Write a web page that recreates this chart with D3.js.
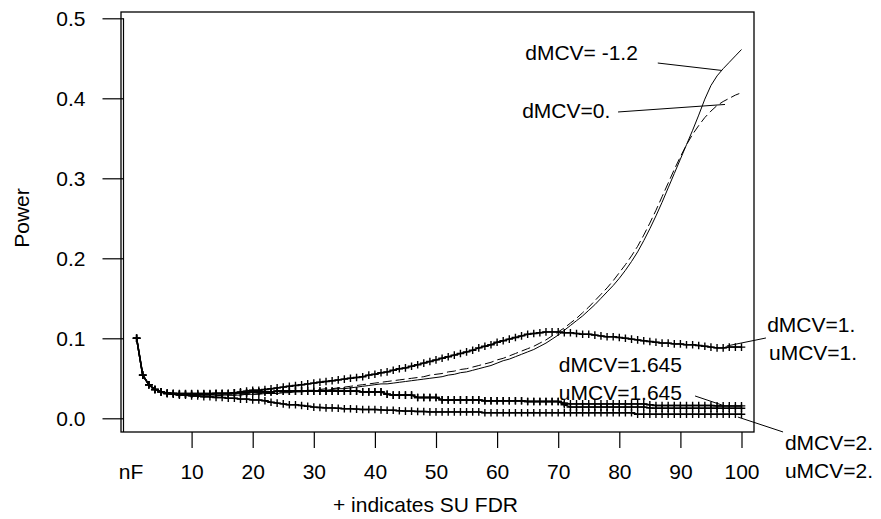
<!DOCTYPE html>
<html><head><meta charset="utf-8">
<script src="https://cdn.jsdelivr.net/npm/d3@7"></script>
<style>
html,body{margin:0;padding:0;background:#fff;}
svg{display:block;}
text{font-family:"Liberation Sans",Arial,Helvetica,sans-serif;font-size:21px;fill:#000;}
</style></head><body>
<svg id="chart" width="881" height="519"></svg>
<script>
// ---- data ----
const nF = d3.range(1, 101);
const xTicks = [0, 10, 20, 30, 40, 50, 60, 70, 80, 90, 100];
const xTickLabels = ["nF", "10", "20", "30", "40", "50", "60", "70", "80", "90", "100"];
const yTicks = [0, 0.1, 0.2, 0.3, 0.4, 0.5];
const yTickLabels = ["0.0", "0.1", "0.2", "0.3", "0.4", "0.5"];

// dMCV=-1.2 (solid)
const powDm12 = [0.100,0.054,0.042,0.036,0.033,0.031,0.030,0.029,0.029,0.028,
 0.028,0.028,0.028,0.028,0.029,0.029,0.029,0.029,0.030,0.030,
 0.030,0.031,0.031,0.031,0.032,0.032,0.033,0.033,0.034,0.034,
 0.035,0.035,0.036,0.037,0.037,0.038,0.039,0.040,0.041,0.042,
 0.043,0.043,0.044,0.045,0.046,0.047,0.048,0.049,0.050,0.051,
 0.052,0.054,0.055,0.057,0.058,0.060,0.062,0.064,0.066,0.069,
 0.072,0.074,0.077,0.080,0.083,0.086,0.090,0.094,0.099,0.104,
 0.110,0.116,0.122,0.128,0.135,0.142,0.150,0.158,0.166,0.175,
 0.185,0.196,0.208,0.222,0.237,0.253,0.270,0.288,0.306,0.324,
 0.342,0.360,0.379,0.399,0.416,0.428,0.437,0.445,0.453,0.461];
// dMCV=0. (dashed)
const powD0 = [0.100,0.054,0.042,0.036,0.033,0.031,0.030,0.029,0.029,0.028,
 0.028,0.028,0.028,0.028,0.029,0.029,0.029,0.030,0.030,0.030,
 0.031,0.031,0.032,0.032,0.033,0.033,0.034,0.034,0.035,0.035,
 0.036,0.037,0.037,0.038,0.039,0.040,0.041,0.042,0.043,0.044,
 0.045,0.046,0.047,0.048,0.049,0.050,0.051,0.052,0.054,0.055,
 0.056,0.058,0.059,0.061,0.062,0.064,0.066,0.068,0.070,0.073,
 0.075,0.078,0.081,0.084,0.087,0.090,0.094,0.098,0.103,0.108,
 0.113,0.119,0.125,0.132,0.139,0.147,0.155,0.163,0.172,0.182,
 0.192,0.203,0.215,0.229,0.244,0.260,0.277,0.294,0.311,0.327,
 0.342,0.355,0.366,0.376,0.384,0.391,0.396,0.400,0.404,0.407];
// dMCV=1. / uMCV=1. (SU FDR, +)
const powDU1 = [0.100,0.054,0.042,0.036,0.033,0.032,0.031,0.031,0.031,0.031,
 0.031,0.031,0.031,0.031,0.031,0.031,0.032,0.033,0.034,0.035,
 0.035,0.036,0.037,0.038,0.039,0.040,0.041,0.042,0.043,0.044,
 0.045,0.046,0.047,0.048,0.049,0.050,0.051,0.052,0.054,0.055,
 0.057,0.058,0.060,0.062,0.063,0.065,0.067,0.069,0.071,0.073,
 0.075,0.077,0.079,0.081,0.083,0.085,0.088,0.090,0.092,0.095,
 0.097,0.099,0.101,0.103,0.105,0.106,0.107,0.108,0.108,0.108,
 0.107,0.107,0.106,0.105,0.105,0.104,0.103,0.102,0.102,0.101,
 0.100,0.099,0.098,0.097,0.096,0.095,0.094,0.094,0.093,0.093,
 0.092,0.092,0.091,0.090,0.089,0.088,0.088,0.089,0.089,0.089];
// dMCV=1.645 (+)
const powD1645 = [0.100,0.054,0.042,0.036,0.033,0.031,0.031,0.030,0.030,0.030,
 0.030,0.030,0.030,0.031,0.031,0.031,0.032,0.032,0.032,0.033,
 0.033,0.033,0.033,0.034,0.034,0.034,0.034,0.034,0.034,0.034,
 0.034,0.034,0.034,0.034,0.034,0.034,0.034,0.033,0.033,0.033,
 0.033,0.030,0.029,0.029,0.029,0.029,0.026,0.026,0.026,0.026,
 0.023,0.023,0.023,0.023,0.023,0.023,0.023,0.022,0.022,0.022,
 0.022,0.022,0.022,0.022,0.021,0.021,0.021,0.021,0.021,0.021,
 0.019,0.018,0.018,0.018,0.018,0.018,0.018,0.018,0.018,0.018,
 0.018,0.018,0.018,0.018,0.017,0.016,0.016,0.016,0.016,0.016,
 0.016,0.016,0.016,0.016,0.016,0.0155,0.0155,0.0155,0.0155,0.0155];
// uMCV=1.645 (+)
const powU1645 = [0.100,0.054,0.042,0.036,0.033,0.031,0.031,0.030,0.030,0.030,
 0.030,0.030,0.030,0.031,0.031,0.031,0.032,0.032,0.032,0.033,
 0.033,0.033,0.033,0.034,0.034,0.034,0.034,0.034,0.034,0.034,
 0.034,0.034,0.034,0.034,0.034,0.034,0.034,0.033,0.033,0.033,
 0.033,0.030,0.029,0.029,0.029,0.029,0.026,0.026,0.026,0.026,
 0.023,0.023,0.023,0.023,0.023,0.023,0.023,0.022,0.022,0.022,
 0.022,0.022,0.022,0.022,0.021,0.021,0.021,0.021,0.021,0.021,
 0.017,0.014,0.014,0.014,0.014,0.014,0.014,0.014,0.014,0.014,
 0.014,0.014,0.014,0.014,0.013,0.0125,0.0125,0.0125,0.0125,0.0125,
 0.0125,0.0125,0.0125,0.0125,0.0125,0.0125,0.0125,0.0125,0.0125,0.0125];
// dMCV=2. / uMCV=2. (+)
const powDU2 = [0.100,0.054,0.042,0.036,0.033,0.031,0.030,0.029,0.029,0.028,
 0.028,0.027,0.027,0.026,0.026,0.025,0.025,0.024,0.024,0.023,
 0.023,0.022,0.020,0.019,0.018,0.017,0.017,0.016,0.015,0.014,
 0.0135,0.013,0.013,0.0125,0.012,0.012,0.0115,0.011,0.011,0.011,
 0.0105,0.010,0.010,0.0095,0.009,0.009,0.0085,0.0085,0.008,0.008,
 0.008,0.008,0.008,0.008,0.008,0.008,0.008,0.007,0.007,0.007,
 0.007,0.007,0.007,0.007,0.007,0.007,0.007,0.007,0.007,0.007,
 0.007,0.007,0.007,0.007,0.007,0.007,0.007,0.007,0.007,0.007,
 0.007,0.007,0.005,0.005,0.005,0.005,0.005,0.005,0.005,0.005,
 0.005,0.005,0.005,0.005,0.005,0.005,0.005,0.005,0.005,0.005];

// annotation labels (text, nF position, power position)
const labelTexts = ["dMCV= -1.2", "dMCV=0.", "dMCV=1.", "uMCV=1.", "dMCV=1.645", "uMCV=1.645", "dMCV=2.", "uMCV=2."];
const labelX = [64.6, 64.1, 104.2, 104.5, 70.1, 70.1, 107.1, 107.1];
const labelY = [0.4485, 0.3754, 0.1079, 0.0729, 0.0585, 0.0229, -0.0396, -0.0746];
// leader lines: [x1, y1, x2, y2] in data units
const leaders = [
  [86.3, 0.4441, 96.8, 0.4348],
  [79.8, 0.3829, 97.3, 0.3923],
  [97.6, 0.0904, 104.0, 0.1004],
  [92.4, 0.0279, 96.8, 0.0166],
  [99.4, 0.0016, 106.8, -0.0171]
];
const yTitle = "Power";
const xTitle = "+ indicates SU FDR";

// ---- drawing ----
const svg = d3.select("#chart");
const box = {l: 121, t: 12, r: 754, b: 432};
const x = d3.scaleLinear().domain([0, 100]).range([130.5, 741.5]);
const y = d3.scaleLinear().domain([0, 0.5]).range([418.3, 18.3]);

svg.append("rect").attr("width", 881).attr("height", 519).attr("fill", "#fff");
svg.append("rect")
  .attr("x", box.l).attr("y", box.t)
  .attr("width", box.r - box.l).attr("height", box.b - box.t)
  .attr("fill", "none").attr("stroke", "#000").attr("stroke-width", 1.3);

// y axis
const yAxis = d3.axisLeft(y).tickValues(yTicks)
  .tickFormat((d, i) => yTickLabels[i]).tickSize(21).tickPadding(17);
const gy = svg.append("g").attr("transform", "translate(123.5,0)").call(yAxis);
gy.select(".domain").remove();
gy.selectAll(".tick line").attr("stroke", "#000").attr("stroke-width", 1.2);
svg.append("line").attr("x1", 123.5).attr("x2", 123.5)
  .attr("y1", y(0.5)).attr("y2", box.b)
  .attr("stroke", "#000").attr("stroke-width", 1.2);

// x axis
const xAxis = d3.axisBottom(x).tickValues(xTicks)
  .tickFormat((d, i) => xTickLabels[i]).tickSize(16).tickPadding(16);
const gx = svg.append("g").attr("transform", `translate(0,${box.b})`).call(xAxis);
gx.select(".domain").remove();
gx.selectAll(".tick line").attr("stroke", "#000").attr("stroke-width", 1.2);
gx.selectAll(".tick").filter(d => d === 0).select("line").remove();

// axis titles
svg.append("text").attr("transform", "translate(29,218) rotate(-90)")
  .attr("text-anchor", "middle").text(yTitle);
svg.append("text").attr("x", 333).attr("y", 512).attr("text-anchor", "start").text(xTitle);

// lines
const line = d3.line().x((d, i) => x(nF[i])).y(d => y(d));
const plusSeries = [powDU2, powU1645, powD1645, powDU1];
plusSeries.forEach(s => {
  svg.append("path").attr("d", line(s)).attr("fill", "none")
    .attr("stroke", "#000").attr("stroke-width", 1.5).attr("stroke-linejoin", "round");
});
svg.append("path").attr("d", line(powD0)).attr("fill", "none")
  .attr("stroke", "#000").attr("stroke-width", 1).attr("stroke-dasharray", "9,4");
svg.append("path").attr("d", line(powDm12)).attr("fill", "none")
  .attr("stroke", "#000").attr("stroke-width", 1);

// + markers
const arm = 3.8;
plusSeries.forEach(s => {
  const d = s.map((v, i) => {
    const px = x(nF[i]), py = y(v);
    return `M${px - arm},${py}H${px + arm}M${px},${py - arm}V${py + arm}`;
  }).join("");
  svg.append("path").attr("d", d).attr("fill", "none").attr("stroke", "#000").attr("stroke-width", 1.4);
});

// leaders
leaders.forEach(l => {
  svg.append("line").attr("x1", x(l[0])).attr("y1", y(l[1]))
    .attr("x2", x(l[2])).attr("y2", y(l[3]))
    .attr("stroke", "#000").attr("stroke-width", 1);
});
// labels
labelTexts.forEach((t, i) => {
  svg.append("text").attr("x", x(labelX[i])).attr("y", y(labelY[i])).text(t);
});
</script>
</body></html>
